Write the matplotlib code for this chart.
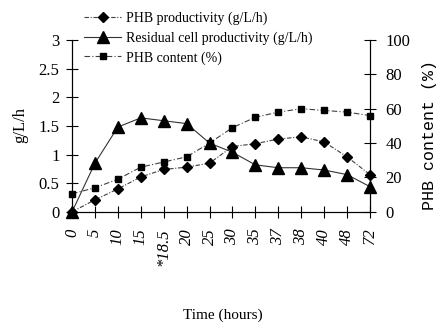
"""PHB productivity, residual cell productivity and PHB content over time."""
import numpy as np
import matplotlib
matplotlib.use("Agg")
import matplotlib.pyplot as plt

times = ["0", "5", "10", "15", "*18.5", "20", "25", "30", "35", "37", "38", "40", "48", "72"]
phb_prod = [0.0, 0.21, 0.40, 0.61, 0.74, 0.78, 0.85, 1.14, 1.19, 1.27, 1.31, 1.22, 0.96, 0.65]
residual = [0.0, 0.85, 1.48, 1.64, 1.59, 1.54, 1.20, 1.04, 0.82, 0.77, 0.77, 0.73, 0.65, 0.44]
content = [10.5, 14, 19, 26, 29, 32, 40, 49, 55, 58, 60, 59, 58, 56]

plt.rcParams["font.family"] = ["Liberation Serif", "DejaVu Serif"]

fig = plt.figure(figsize=(4.42, 3.3), dpi=100)
ax = fig.add_axes([0.163, 0.358, 0.674, 0.521])
ax2 = ax.twinx()

x = np.arange(len(times))
l1, = ax.plot(x, phb_prod, color="0.25", lw=0.8, ls=(0, (4, 1.5, 1, 1.5)),
              marker="D", ms=5, mfc="black", mec="black", clip_on=False, zorder=3)
l2, = ax.plot(x, residual, color="0.2", lw=0.8, ls="-",
              marker="^", ms=9, mfc="black", mec="black", clip_on=False, zorder=3)
l3, = ax2.plot(x, content, color="0.25", lw=0.8, ls=(0, (5, 2, 1, 2)),
               marker="s", ms=5, mfc="black", mec="black", clip_on=False, zorder=3)

ax.set_xlim(0, len(times) - 1)
ax.set_ylim(0, 3)
ax2.set_ylim(0, 100)
ax.set_yticks([0, 0.5, 1, 1.5, 2, 2.5, 3])
ax.set_yticklabels(["0", "0.5", "1", "1.5", "2", "2.5", "3"])
ax2.set_yticks([0, 20, 40, 60, 80, 100])
ax.set_xticks(x)
ax.set_xticklabels(times, rotation=90, fontstyle="italic", fontsize=12, va="top")

for a in (ax, ax2):
    a.spines["top"].set_visible(False)
    a.spines["left"].set_linestyle((0, (3, 1)))
    a.spines["left"].set_linewidth(0.8)
    a.spines["right"].set_linewidth(0.8)
    a.spines["bottom"].set_linewidth(0.8)
ax.tick_params(axis="y", direction="inout", length=8, width=0.8, labelsize=12, pad=5)
ax.tick_params(axis="x", direction="inout", length=8, width=0.8, pad=8)
ax2.tick_params(axis="y", direction="inout", length=8, width=0.8, labelsize=12, pad=7)

fig.text(0.045, 0.62, "g/L/h", rotation=90, ha="center", va="center", fontsize=12)
fig.text(0.972, 0.59, "PHB content (%)", rotation=90, ha="center", va="center",
         fontsize=12, family=["Liberation Mono", "DejaVu Sans Mono"])
fig.text(0.505, 0.045, "Time (hours)", ha="center", va="center", fontsize=11)

fig.legend([l1, l2, l3],
           ["PHB productivity (g/L/h)", "Residual cell productivity (g/L/h)", "PHB content (%)"],
           loc="upper left", bbox_to_anchor=(0.19, 0.965), frameon=False, fontsize=10,
           handlelength=2.7, handletextpad=0.3, labelspacing=0.45, borderpad=0, borderaxespad=0)

fig.savefig("out.png", dpi=100)
